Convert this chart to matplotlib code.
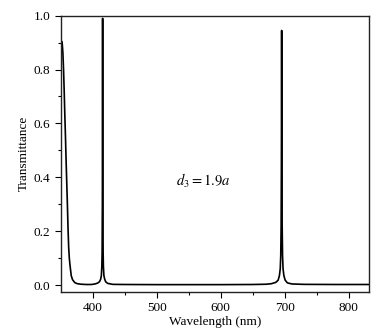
import matplotlib.pyplot as plt
from matplotlib.ticker import MultipleLocator

plt.rcParams["font.family"] = "Liberation Serif"
plt.rcParams["mathtext.fontset"] = "stix"

# transmission spectrum, wavelength in nm
wavelength = [
    350.5, 351.5, 352.5, 353.5, 354.5, 355.5, 356.5, 357.5, 358.5, 359.5,
    360.5, 361.5, 362.5, 363.5, 364.5, 366.5, 368.5, 372, 376, 382,
    390, 398, 403.5, 407.5, 410.5, 412.5, 413.5, 414.3, 414.7, 415.1,
    415.5, 415.9, 416.3, 416.7, 417.5, 418.7, 420.3, 423.5, 431.5, 450,
    500, 600, 650, 671, 679, 686, 689.5, 691.5, 692.8, 693.6,
    694.2, 694.6, 695.0, 695.4, 695.8, 696.4, 697.2, 698.5, 700.5, 704,
    711, 730, 780, 832,
]
transmittance = [
    0.895, 0.905, 0.895, 0.86, 0.80, 0.72, 0.63, 0.55, 0.46, 0.38,
    0.30, 0.21, 0.14, 0.10, 0.075, 0.035, 0.02, 0.009, 0.005, 0.003,
    0.002, 0.002, 0.004, 0.007, 0.012, 0.022, 0.035, 0.07, 0.12, 0.30,
    0.99, 0.30, 0.12, 0.07, 0.035, 0.022, 0.012, 0.006, 0.0025, 0.002,
    0.0015, 0.0015, 0.002, 0.003, 0.005, 0.010, 0.018, 0.035, 0.06, 0.11,
    0.22, 0.45, 0.945, 0.45, 0.22, 0.11, 0.06, 0.035, 0.018, 0.008,
    0.004, 0.0025, 0.002, 0.002,
]

fig = plt.figure(figsize=(3.86, 3.33), dpi=100)
ax = fig.add_axes([0.158, 0.123, 0.799, 0.830])

ax.plot(wavelength, transmittance, color="black", lw=1.2)

ax.set_xlim(350.5, 832)
ax.set_ylim(-0.026, 1.0)
ax.xaxis.set_major_locator(MultipleLocator(100))
ax.xaxis.set_minor_locator(MultipleLocator(50))
ax.yaxis.set_major_locator(MultipleLocator(0.2))
ax.yaxis.set_minor_locator(MultipleLocator(0.1))
ax.yaxis.set_major_formatter(lambda v, pos: f"{v:.1f}")

ax.tick_params(which="major", direction="out", length=4, width=0.8, labelsize=9.5)
ax.tick_params(which="minor", direction="out", length=2.5, width=0.8)
for sp in ax.spines.values():
    sp.set_linewidth(1.0)
    sp.set_color("#222222")

ax.set_xlabel("Wavelength (nm)", fontsize=9.5, labelpad=1)
ax.set_ylabel("Transmittance", fontsize=9.5, labelpad=3)

ax.text(530, 0.385, r"$d_3 = 1.9a$", fontsize=10.5, va="center", ha="left")

fig.savefig("out.png", dpi=100)
